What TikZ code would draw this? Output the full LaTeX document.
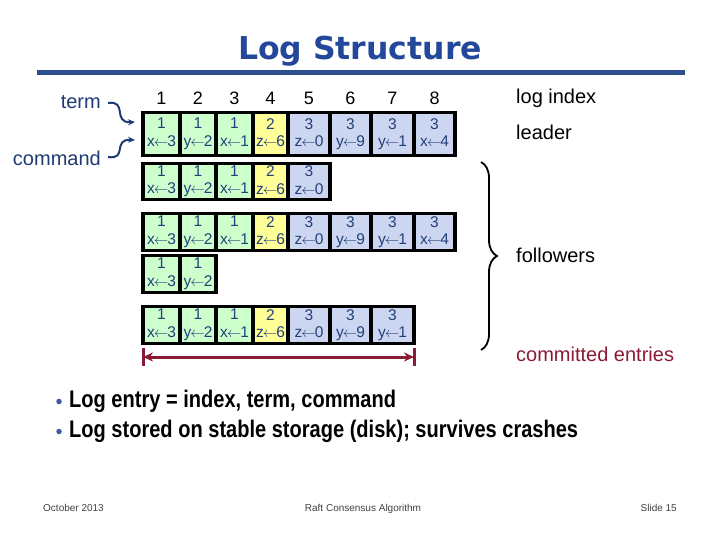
\documentclass[tikz,border=0pt]{standalone}
\usepackage{fontspec}
\setmainfont{Liberation Sans}
\newfontfamily\titlefont{DejaVu Sans}
\newfontfamily\narrowfont[FakeStretch=0.835]{Liberation Sans}
\usetikzlibrary{arrows.meta,decorations.pathreplacing,calc}
\definecolor{cgreen}{HTML}{CCFFCC}
\definecolor{cyellow}{HTML}{FFFF99}
\definecolor{cblue}{HTML}{CCD6F0}
\definecolor{cellink}{HTML}{22407A}
\definecolor{navy}{HTML}{1F3B73}
\definecolor{titleblue}{HTML}{23479A}
\definecolor{ruleblue}{HTML}{2D4F8E}
\definecolor{darkred}{HTML}{8B1A34}
\definecolor{footgray}{HTML}{404040}
\definecolor{dotblue}{HTML}{3B5BA5}
\newcommand\asg[2]{#1\kern-1pt$\leftarrow$\kern-1pt#2}
\newcommand\logrow[4]{%
  \foreach \i/\xl/\xr/\t/\v/\n/\f in {1/143/180/1/x/3/cgreen, 2/180/216/1/y/2/cgreen,
      3/216/253/1/x/1/cgreen, 4/253/288/2/z/6/cyellow, 5/288/330/3/z/0/cblue,
      6/330/371/3/y/9/cblue, 7/371/414/3/y/1/cblue, 8/414/455/3/x/4/cblue}{%
    \ifnum\i>#4\relax\else
      \node[cell,fill=\f,minimum width={(\xr-\xl)*1pt},minimum height={(#3-#2)*1pt}]
        (#1c\i) at ({(\xl+\xr)/2},{(#2+#3)/2+0.5}) {\t\\\asg{\v}{\n}\vphantom{y}};
    \fi}}
\begin{document}
\begin{tikzpicture}[x=1pt,y=-1pt,
  cell/.style={draw=black,line width=3.2pt,inner sep=0pt,align=center,text=cellink,
    font=\fontsize{15.5}{17.5}\selectfont},
  lbl/.style={inner sep=0pt,font=\fontsize{20}{20}\selectfont},
  hdr/.style={inner sep=0pt,font=\fontsize{18}{18}\selectfont},
  curlarrow/.style={draw=navy,line width=2pt,-{Stealth[length=7pt,width=6pt]}},
  commit/.style={draw=darkred,line width=3pt},
  bullettext/.style={inner sep=0pt,anchor=base west,font=\narrowfont\bfseries\fontsize{24}{24}\selectfont},
  bulletdot/.style={circle,fill=dotblue,inner sep=0pt,minimum size=5.5pt},
  foot/.style={inner sep=0pt,anchor=base,text=footgray,font=\fontsize{10}{10}\selectfont}]
\useasboundingbox (0,0) rectangle (720,540);
% title
\node[inner sep=0pt,anchor=base,text=titleblue,font=\titlefont\bfseries\fontsize{31.5}{31.5}\selectfont] (title) at (360,60) {Log Structure};
\coordinate (rl) at (37,72.5);
\coordinate (rr) at (685,72.5);
\draw[ruleblue,line width=4.5pt] (rl) -- (rr);
% index header
\foreach \i/\x in {1/161.5,2/198,3/234.5,4/270.5,5/309,6/350.5,7/392.5,8/434.5}
  \node[hdr] (h\i) at (\x,98) {\i};
% logs
\logrow{a}{112}{155}{8}
\logrow{b}{163}{199}{5}
\logrow{c}{213}{250}{8}
\logrow{d}{255}{292}{2}
\logrow{e}{306}{343}{7}
% left labels
\node[lbl,anchor=east,text=navy] (term) at (101,102) {term};
\node[lbl,anchor=east,text=navy] (command) at (101,158) {command};
\coordinate (tend) at (135,122);
\coordinate (cend) at (135,140);
\draw[curlarrow] ($(term.east)+(7,1)$) .. controls (128,100) and (112,123) .. (tend);
\draw[curlarrow] ($(command.east)+(7,-1)$) .. controls (128,160) and (112,139) .. (cend);
% right labels
\node[lbl,anchor=west] (logindex) at (516,98) {log index};
\node[lbl,anchor=west] (leader) at (516,132) {leader};
\node[lbl,anchor=west] (followers) at (516,255) {followers};
\node[lbl,anchor=west,text=darkred] (committed) at (516,354) {committed entries};
% brace
\coordinate (bt) at (481,162);
\coordinate (bb) at (481,350);
\draw[decorate,decoration={brace,amplitude=16pt},line width=1.8pt] (bt) -- (bb);
% committed arrow
\coordinate (cl) at (143,357);
\coordinate (cr) at (414,357);
\draw[commit,{Stealth[length=10pt,width=9pt]}-{Stealth[length=10pt,width=9pt]}] (cl) -- (cr);
\draw[commit] ($(cl)+(0,-9)$) -- ($(cl)+(0,9)$);
\draw[commit] ($(cr)+(0,-9)$) -- ($(cr)+(0,9)$);
% bullets
\node[bulletdot] (d1) at (59,401.5) {};
\node[bulletdot] (d2) at (59,431.5) {};
\node[bullettext] (b1) at (69,407) {Log entry = index, term, command};
\node[bullettext] (b2) at (69,437) {Log stored on stable storage (disk); survives crashes};
% footer
\node[foot,anchor=base west] (f1) at (43,511) {October 2013};
\node[foot] (f2) at (363,511) {Raft Consensus Algorithm};
\node[foot,anchor=base east] (f3) at (677,511) {Slide 15};
\end{tikzpicture}
\end{document}
